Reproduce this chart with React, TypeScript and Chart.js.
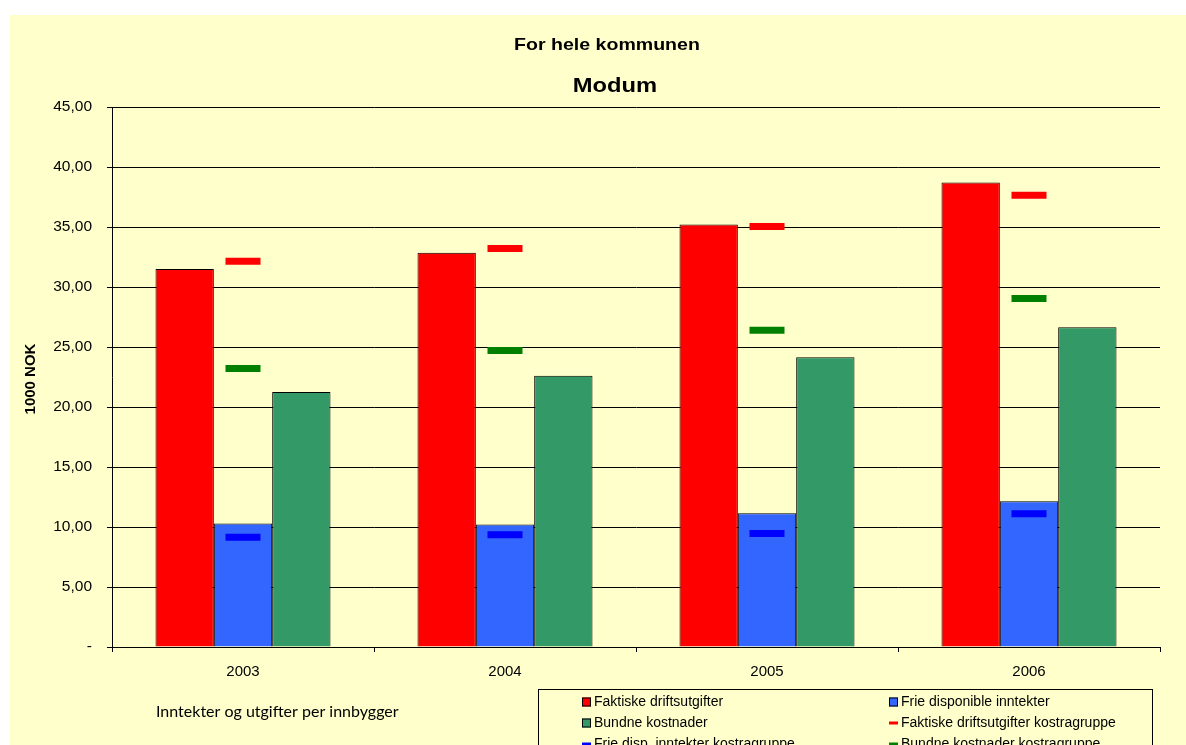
import React, { useEffect, useRef } from "react";
import { Chart, registerables } from "chart.js";

Chart.register(...registerables);

const categories = ["2003", "2004", "2005", "2006"];
const faktiske = [31.5, 32.85, 35.2, 38.7];
const frie = [10.3, 10.2, 11.15, 12.15];
const bundne = [21.25, 22.6, 24.15, 26.65];
const faktiskeKostra = [32.15, 33.2, 35.05, 37.65];
const frieKostra = [9.15, 9.35, 9.45, 11.1];
const bundneKostra = [23.2, 24.7, 26.4, 29.05];

const seriesLabels = [
  "Faktiske driftsutgifter",
  "Frie disponible inntekter",
  "Bundne kostnader",
  "Faktiske driftsutgifter kostragruppe",
  "Frie disp. inntekter kostragruppe",
  "Bundne kostnader kostragruppe",
];
const titleText = "For hele kommunen";
const subtitleText = "Modum";
const yTitle = "1000 NOK";
const captionText = "Inntekter og utgifter per innbygger";

const FONT = "'Liberation Sans', Arial, sans-serif";

function stretchedText(ctx: CanvasRenderingContext2D, text: string, cx: number, cy: number, font: string, sx: number) {
  ctx.save();
  ctx.font = font;
  ctx.textAlign = "center";
  ctx.textBaseline = "middle";
  ctx.fillStyle = "#000";
  ctx.translate(cx, cy);
  ctx.scale(sx, 1);
  ctx.fillText(text, 0, 0);
  ctx.restore();
}

const decorPlugin = {
  id: "decor",
  afterDraw(chart: any) {
    const ctx: CanvasRenderingContext2D = chart.ctx;
    // Titles
    stretchedText(ctx, titleText, 597, 30, `bold 17px ${FONT}`, 1.15);
    stretchedText(ctx, subtitleText, 605, 71, `bold 21px ${FONT}`, 1.13);
    // Y axis title
    ctx.save();
    ctx.translate(21, 364);
    ctx.rotate(-Math.PI / 2);
    ctx.font = `bold 15px ${FONT}`;
    ctx.textAlign = "center";
    ctx.textBaseline = "middle";
    ctx.fillStyle = "#000";
    ctx.fillText(yTitle, 0, 0);
    ctx.restore();
    // Caption
    ctx.save();
    ctx.font = `16px Lato, 'Open Sans', sans-serif`;
    ctx.textAlign = "left";
    ctx.textBaseline = "middle";
    ctx.fillStyle = "#000";
    ctx.fillText(captionText, 146, 697);
    ctx.restore();
    // Legend box
    ctx.save();
    ctx.strokeStyle = "#000";
    ctx.lineWidth = 1;
    ctx.strokeRect(528.5, 674.5, 614, 80);
    const colX = [572, 879];
    const rowY = [687, 708, 729];
    chart.data.datasets.forEach((ds: any, i: number) => {
      const x = colX[i % 2];
      const y = rowY[Math.floor(i / 2)];
      if (ds.type === "line") {
        ctx.fillStyle = ds.pointBorderColor;
        ctx.fillRect(x, y - 1.5, 9, 3);
      } else {
        ctx.fillStyle = ds.backgroundColor;
        ctx.fillRect(x, y - 4.5, 9, 9);
        ctx.strokeStyle = "#000";
        ctx.strokeRect(x + 0.5, y - 4, 8, 8);
      }
      ctx.save();
      ctx.font = `14px ${FONT}`;
      ctx.textAlign = "left";
      ctx.textBaseline = "middle";
      ctx.fillStyle = "#000";
      ctx.fillText(ds.label, x + 12, y);
      ctx.restore();
    });
    ctx.restore();
  },
};

export default function App() {
  const ref = useRef<HTMLCanvasElement>(null);
  useEffect(() => {
    if (!ref.current) return;
    const barCommon = {
      type: "bar" as const,
      borderColor: "#000",
      borderWidth: 1,
      barPercentage: 1,
      categoryPercentage: 0.668,
      order: 2,
    };
    const markCommon = {
      type: "line" as const,
      showLine: false,
      pointStyle: "line",
      pointRadius: 17.5,
      pointHoverRadius: 17.5,
      pointBorderWidth: 7,
      pointHoverBorderWidth: 7,
      order: 1,
    };
    const chart = new Chart(ref.current, {
      type: "bar",
      data: {
        labels: categories,
        datasets: [
          { ...barCommon, label: seriesLabels[0], data: faktiske, backgroundColor: "#FF0000" },
          { ...barCommon, label: seriesLabels[1], data: frie, backgroundColor: "#3366FF" },
          { ...barCommon, label: seriesLabels[2], data: bundne, backgroundColor: "#339966" },
          { ...markCommon, label: seriesLabels[3], data: faktiskeKostra, pointBorderColor: "#FF0000", pointBackgroundColor: "#FF0000", borderColor: "#FF0000" },
          { ...markCommon, label: seriesLabels[4], data: frieKostra, pointBorderColor: "#0000FF", pointBackgroundColor: "#0000FF", borderColor: "#0000FF" },
          { ...markCommon, label: seriesLabels[5], data: bundneKostra, pointBorderColor: "#008000", pointBackgroundColor: "#008000", borderColor: "#008000" },
        ] as any,
      },
      options: {
        responsive: false,
        animation: false,
        devicePixelRatio: 1,
        layout: { padding: { top: 92, right: 26, left: 0, bottom: 0 } },
        plugins: {
          legend: { display: false },
          tooltip: { enabled: false },
          title: { display: false },
        },
        scales: {
          x: {
            offset: true,
            grid: {
              display: true,
              drawOnChartArea: false,
              drawTicks: true,
              tickLength: 5,
              color: "#000",
              offset: true,
            },
            border: { display: true, color: "#000", width: 1 },
            ticks: {
              color: "#000",
              font: { family: FONT, size: 15 },
              padding: 11,
            },
            afterFit(scale: any) {
              scale.height = 98;
            },
          },
          y: {
            min: 0,
            max: 45,
            grid: { color: "#000", lineWidth: 1, tickLength: 5, drawTicks: true },
            border: { display: true, color: "#000", width: 1 },
            ticks: {
              stepSize: 5,
              color: "#000",
              font: { family: FONT, size: 15.5 },
              padding: 15,
              callback: (v: any) => (Number(v) === 0 ? "-" : Number(v).toFixed(2).replace(".", ",")),
            },
            afterFit(scale: any) {
              scale.width = 102;
            },
          },
        },
      },
      plugins: [decorPlugin],
    });
    return () => chart.destroy();
  }, []);

  return (
    <div style={{ position: "absolute", left: 0, top: 0, width: 1186, height: 745, background: "#fff", overflow: "hidden" }}>
      <canvas
        ref={ref}
        width={1176}
        height={730}
        style={{ position: "absolute", left: 10, top: 15, width: 1176, height: 730, background: "#FFFFCC" }}
      />
    </div>
  );
}
